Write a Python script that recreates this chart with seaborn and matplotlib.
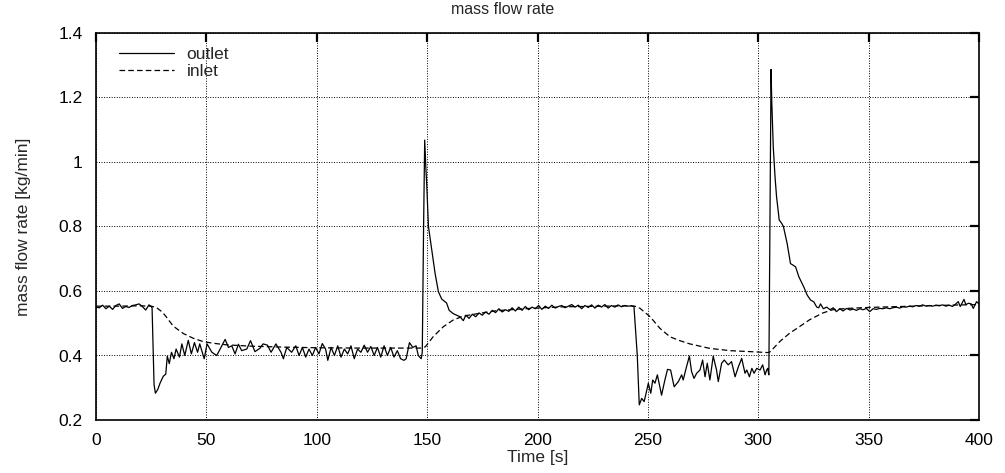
import matplotlib
matplotlib.use("Agg")
import matplotlib.pyplot as plt
import seaborn as sns
import pandas as pd

# ---------------- data ----------------
outlet_time = [
    0, 1.5, 3, 4.5, 6, 7.5, 9, 10.5, 12, 13.5, 15, 16.5, 18, 19.5, 21, 22.5, 24, 25.0,
    25.4, 26.3, 26.9, 28.0, 29.0, 30.5, 31.6, 32.3, 33.2, 34.2, 35.3, 36.3, 37.8, 38.9,
    40.2, 41.8, 43.2, 44.6, 46.0, 47.0, 49.0, 50.3, 52.5, 54.7, 56.2, 58.5, 60.0, 61.5,
    63.0, 64.5, 66.0, 68.3, 70.0, 72.0, 74.2, 75.7, 77.7, 79.3, 81.5, 83.8, 84.9, 86.4,
    88.6, 90.5, 92, 93.5, 95, 96.5, 98, 99.5, 101, 102.5, 104, 105, 106.5, 108, 109.5,
    111, 112.5, 114, 115.5, 117, 118.5, 120, 121.5, 123, 124.5, 126, 127.5, 129, 130.5,
    132, 133.5, 135, 136.5, 138, 139.5, 140.5, 142, 143.5, 145, 146, 147.3, 147.8,
    148.4, 148.9, 149.4, 149.8, 150.6, 152.1, 153.6, 155.1, 156.6, 158.8, 160.0, 161.8,
    164.9, 166.4, 167.5, 169, 170.5, 172, 173.5, 175, 176.5, 178, 179.5, 181, 182.5, 184,
    185.5, 187, 188.5, 190, 191.5, 193, 194.5, 196, 197.5, 199, 200.5, 202, 203.5, 205,
    206.5, 208, 209.5, 211, 212.5, 214, 215.5, 217, 218.5, 220, 221.5, 223, 224.5, 226,
    227.5, 229, 230.5, 232, 233.5, 235, 236.5, 238, 239.5, 241, 242.5, 243.7, 245.2,
    246.1, 247.2, 248.3, 249.2, 250.2, 251.3, 252.2, 253.2, 254.3, 256.2, 257.7, 258.9,
    260.3, 261.9, 263.8, 265.3, 266.0, 267.5, 268.8, 269.8, 270.9, 272.1, 273.6, 274.8,
    275.9, 276.9, 278.1, 279.6, 281.1, 281.9, 283.4, 284.6, 286.4, 287.9, 289.5, 291.0,
    292.5, 294.0, 294.8, 296.0, 297.1, 298.1, 299.3, 300.8, 302.0, 303.1, 303.8, 304.3,
    304.8, 305.4, 305.8, 306.1, 306.8, 307.6, 308.3, 309.5, 310.6, 311.4, 313.1, 314.6,
    315.8, 316.9, 318.4, 320.6, 322.2, 323.7, 325.2, 326.5, 327.4, 328.2, 329.5, 331,
    332.5, 334, 335.4, 337, 338.4, 340, 341.6, 343, 344.5, 346, 347.5, 349, 350.5, 352,
    353.5, 355, 356.5, 358, 359.5, 361, 362.5, 364, 365.5, 367, 368.5, 370, 371.5, 373,
    374.5, 376, 377.5, 379, 380.5, 382, 383.5, 385, 386.5, 388, 389.5, 390.6, 391.5,
    392.3, 393.2, 394, 395.3, 396.5, 397.4, 398.9, 400,
]
outlet_flow = [
    0.550, 0.548, 0.556, 0.545, 0.553, 0.543, 0.555, 0.560, 0.546, 0.552, 0.549, 0.555,
    0.557, 0.560, 0.552, 0.541, 0.557, 0.552,
    0.548, 0.310, 0.283, 0.295, 0.314, 0.336, 0.342, 0.398, 0.375, 0.410, 0.390, 0.420,
    0.395, 0.436, 0.400, 0.447, 0.405, 0.440, 0.410, 0.436, 0.390, 0.436, 0.410, 0.400,
    0.420, 0.450, 0.425, 0.430, 0.405, 0.435, 0.415, 0.420, 0.446, 0.412, 0.422, 0.436,
    0.432, 0.410, 0.436, 0.410, 0.390, 0.425, 0.410, 0.430, 0.400, 0.425, 0.395, 0.420,
    0.400, 0.425, 0.405, 0.437, 0.420, 0.385, 0.425, 0.400, 0.430, 0.395, 0.420, 0.405,
    0.430, 0.390, 0.420, 0.410, 0.432, 0.410, 0.428, 0.400, 0.425, 0.395, 0.430, 0.400,
    0.425, 0.395, 0.415, 0.390, 0.385, 0.390, 0.440, 0.425, 0.430, 0.400, 0.390, 0.410,
    0.800, 1.068, 0.985, 0.934, 0.800, 0.727, 0.655, 0.598, 0.575, 0.563, 0.540, 0.530,
    0.520, 0.508, 0.525, 0.515, 0.528, 0.520, 0.532, 0.525, 0.535, 0.528, 0.540, 0.533,
    0.545, 0.535, 0.542, 0.537, 0.548, 0.538, 0.550, 0.540, 0.552, 0.542, 0.550, 0.545,
    0.555, 0.543, 0.553, 0.546, 0.556, 0.547, 0.552, 0.555, 0.548, 0.553, 0.558, 0.550,
    0.556, 0.545, 0.555, 0.549, 0.557, 0.547, 0.556, 0.550, 0.558, 0.547, 0.555, 0.550,
    0.557, 0.551, 0.555, 0.553, 0.554, 0.552, 0.400,
    0.247, 0.267, 0.257, 0.283, 0.314, 0.283, 0.324, 0.314, 0.340, 0.277, 0.324, 0.357,
    0.355, 0.303, 0.319, 0.340, 0.324, 0.365, 0.398, 0.350, 0.329, 0.345, 0.355, 0.386,
    0.334, 0.376, 0.324, 0.398, 0.355, 0.319, 0.376, 0.386, 0.371, 0.381, 0.334, 0.365,
    0.391, 0.345, 0.355, 0.334, 0.360, 0.345, 0.360, 0.355, 0.371, 0.340, 0.355, 0.360,
    0.340, 0.900, 1.287, 1.192, 1.047, 0.954, 0.892, 0.820, 0.810, 0.800, 0.747, 0.685,
    0.680, 0.675, 0.644, 0.613, 0.587, 0.572, 0.566, 0.550, 0.548, 0.560, 0.545, 0.550,
    0.542, 0.548, 0.536, 0.545, 0.538, 0.546, 0.541, 0.544, 0.540, 0.545, 0.542, 0.546,
    0.536, 0.545, 0.543, 0.546, 0.545, 0.548, 0.545, 0.548, 0.550, 0.547, 0.551, 0.550,
    0.553, 0.551, 0.555, 0.553, 0.557, 0.553, 0.555, 0.553, 0.556, 0.554, 0.557, 0.553,
    0.556, 0.552, 0.560, 0.567, 0.552, 0.562, 0.574, 0.558, 0.562, 0.560, 0.546, 0.567,
    0.560,
]

inlet_time = [
    0, 10, 20, 25, 27.3, 30, 31.8, 35, 39.6, 44.2, 48.6, 53.1, 59.2, 70, 85, 100, 120,
    140, 147.5, 149.2, 152.7, 157.3, 161.8, 166.3, 173.9, 181.5, 196.6, 211.7, 230, 242,
    244, 246.4, 250.9, 255.5, 260, 264.5, 269, 278.1, 287.2, 296.3, 304.5, 305.5, 309.7,
    314.2, 318.8, 323.3, 329.3, 333.8, 340, 350, 365, 380, 400,
]
inlet_flow = [
    0.553, 0.553, 0.554, 0.553, 0.549, 0.535, 0.520, 0.491, 0.468, 0.453, 0.443, 0.438,
    0.433, 0.429, 0.426, 0.424, 0.423, 0.423, 0.423, 0.427, 0.458, 0.489, 0.510, 0.522,
    0.531, 0.539, 0.546, 0.551, 0.553, 0.554, 0.553, 0.5465, 0.521, 0.484, 0.458, 0.446,
    0.436, 0.422, 0.415, 0.412, 0.409, 0.412, 0.443, 0.469, 0.490, 0.511, 0.532, 0.542,
    0.546, 0.549, 0.552, 0.555, 0.558,
]

series_names = ["outlet", "inlet"]
x_ticks = [0, 50, 100, 150, 200, 250, 300, 350, 400]
y_ticks = [0.2, 0.4, 0.6, 0.8, 1.0, 1.2, 1.4]
y_tick_labels = ["0.2", "0.4", "0.6", "0.8", "1", "1.2", "1.4"]

# ---------------- plot ----------------
sns.set_style("white")
plt.rcParams["font.family"] = ["Liberation Sans", "DejaVu Sans"]

fig = plt.figure(figsize=(10.05, 4.73), dpi=100)
ax = fig.add_axes([96 / 1005, 53 / 473, (979 - 96) / 1005, (420 - 33) / 473])

df_out = pd.DataFrame({"t": outlet_time, "v": outlet_flow})
df_in = pd.DataFrame({"t": inlet_time, "v": inlet_flow})

sns.lineplot(data=df_out, x="t", y="v", ax=ax, color="black", linewidth=0.9,
             label=series_names[0], estimator=None, sort=False)
sns.lineplot(data=df_in, x="t", y="v", ax=ax, color="black", linewidth=0.9,
             linestyle=(0, (4.5, 2.5)), label=series_names[1], estimator=None, sort=False)

ax.set_xlim(0, 400)
ax.set_ylim(0.2, 1.4)
ax.set_xticks(x_ticks)
ax.set_yticks(y_ticks)
ax.set_yticklabels(y_tick_labels)

ax.grid(True, color="black", linestyle=(0, (1, 1.6)), linewidth=0.7)
for s in ax.spines.values():
    s.set_visible(True)
    s.set_color("black")
    s.set_linewidth(1.2)

ax.tick_params(direction="in", length=6.5, width=1.6, top=True, right=True,
               labelsize=12.5, colors="black", pad=9.5)

ax.set_xlabel("Time [s]", fontsize=12.5, labelpad=1)
ax.set_ylabel("mass flow rate [kg/min]", fontsize=12.5, labelpad=20)
fig.suptitle("mass flow rate", fontsize=11.5, x=0.5, y=0.995, va="top")

leg = ax.legend(loc="upper left", frameon=False, fontsize=12.5, handlelength=3.2,
                handletextpad=0.7, labelspacing=0.1, borderaxespad=0.4,
                bbox_to_anchor=(0.01, 1.0))
for line in leg.get_lines():
    line.set_linewidth(0.9)

fig.savefig("out.png", dpi=100, facecolor="white")
